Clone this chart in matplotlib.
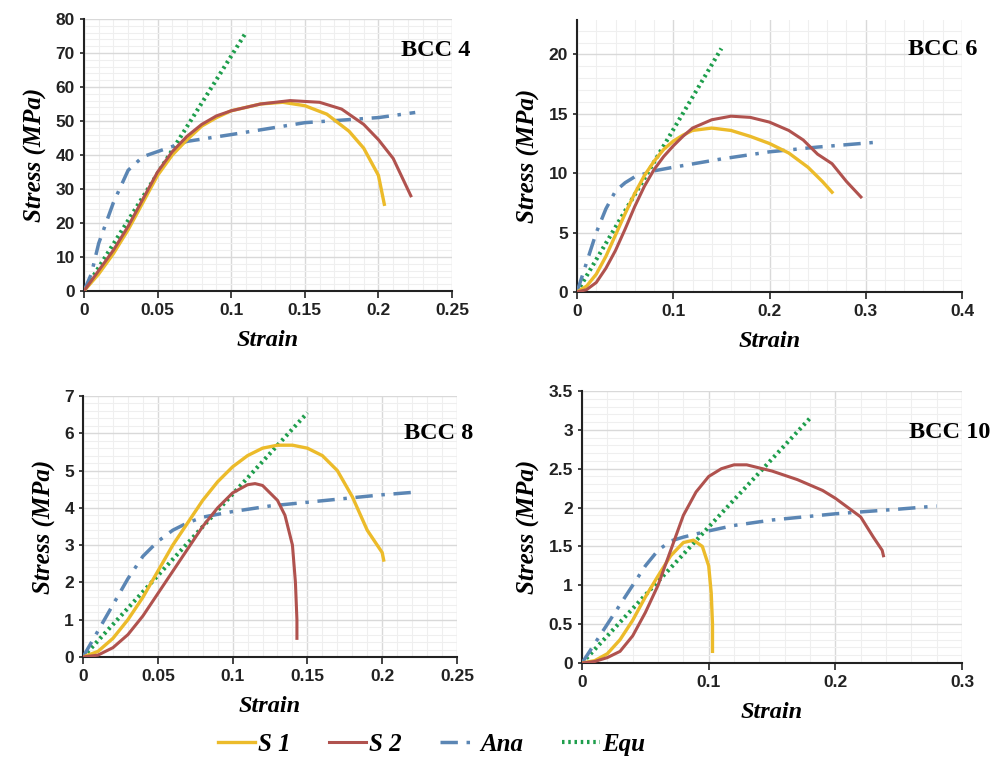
import numpy as np
import matplotlib.pyplot as plt
from matplotlib.lines import Line2D
from matplotlib.ticker import MultipleLocator

# BCC 4
bcc4_s1_x = [0, 0.01, 0.02, 0.03, 0.04, 0.05, 0.06, 0.07, 0.08, 0.09, 0.10, 0.12, 0.135, 0.15, 0.165, 0.18, 0.19, 0.20, 0.204]
bcc4_s1_y = [0, 5, 11, 18, 26, 34, 40, 44.5, 48.5, 51, 53, 55, 55.5, 54.5, 52, 47, 42, 34, 25.5]
bcc4_s2_x = [0, 0.01, 0.02, 0.03, 0.04, 0.05, 0.06, 0.07, 0.08, 0.09, 0.10, 0.12, 0.14, 0.16, 0.175, 0.19, 0.20, 0.21, 0.222]
bcc4_s2_y = [0, 6, 12, 19, 27, 35, 41, 45.5, 49, 51.5, 53, 55, 56, 55.5, 53.5, 49, 44.5, 39, 28]
bcc4_ana_x = [0, 0.005, 0.01, 0.02, 0.03, 0.04, 0.05, 0.07, 0.10, 0.15, 0.20, 0.225]
bcc4_ana_y = [0, 5, 14, 26, 35.5, 39.5, 41, 44, 46, 49.5, 51, 52.5]
bcc4_equ_x = [0, 0.11]
bcc4_equ_y = [0, 76]

# BCC 6
bcc6_s1_x = [0, 0.01, 0.02, 0.03, 0.04, 0.05, 0.06, 0.07, 0.08, 0.09, 0.10, 0.11, 0.12, 0.14, 0.16, 0.18, 0.20, 0.22, 0.24, 0.255, 0.265]
bcc6_s1_y = [0, 0.5, 1.5, 3, 4.8, 6.6, 8.3, 9.8, 11, 12, 12.7, 13.2, 13.6, 13.8, 13.6, 13.1, 12.5, 11.7, 10.5, 9.3, 8.4]
bcc6_s2_x = [0, 0.01, 0.02, 0.03, 0.04, 0.05, 0.06, 0.07, 0.08, 0.09, 0.10, 0.11, 0.12, 0.14, 0.16, 0.18, 0.20, 0.22, 0.235, 0.25, 0.265, 0.28, 0.295]
bcc6_s2_y = [0, 0.2, 0.8, 2, 3.5, 5.3, 7.2, 8.9, 10.3, 11.4, 12.3, 13.1, 13.8, 14.5, 14.8, 14.7, 14.3, 13.6, 12.8, 11.6, 10.8, 9.3, 8]
bcc6_ana_x = [0, 0.01, 0.02, 0.03, 0.04, 0.05, 0.06, 0.08, 0.10, 0.15, 0.20, 0.25, 0.31]
bcc6_ana_y = [0, 2.5, 5, 7, 8.5, 9.2, 9.7, 10.2, 10.5, 11.2, 11.8, 12.2, 12.6]
bcc6_equ_x = [0, 0.15]
bcc6_equ_y = [0, 20.5]

# BCC 8
bcc8_s1_x = [0, 0.01, 0.02, 0.03, 0.04, 0.05, 0.06, 0.07, 0.08, 0.09, 0.10, 0.11, 0.12, 0.13, 0.14, 0.15, 0.16, 0.17, 0.18, 0.19, 0.20, 0.201]
bcc8_s1_y = [0, 0.15, 0.5, 1.0, 1.6, 2.3, 3.0, 3.6, 4.2, 4.7, 5.1, 5.4, 5.6, 5.68, 5.68, 5.6, 5.4, 5.0, 4.3, 3.4, 2.8, 2.6]
bcc8_s2_x = [0, 0.01, 0.02, 0.03, 0.04, 0.05, 0.06, 0.07, 0.08, 0.09, 0.10, 0.11, 0.115, 0.12, 0.13, 0.135, 0.14, 0.142, 0.143, 0.143]
bcc8_s2_y = [0, 0.05, 0.25, 0.6, 1.1, 1.7, 2.3, 2.9, 3.5, 4.0, 4.4, 4.62, 4.65, 4.6, 4.2, 3.8, 3.0, 2.0, 1.0, 0.5]
bcc8_ana_x = [0, 0.01, 0.02, 0.03, 0.04, 0.05, 0.06, 0.07, 0.08, 0.10, 0.125, 0.15, 0.175, 0.20, 0.222]
bcc8_ana_y = [0, 0.7, 1.4, 2.1, 2.7, 3.1, 3.4, 3.6, 3.75, 3.9, 4.05, 4.15, 4.25, 4.35, 4.42]
bcc8_equ_x = [0, 0.15]
bcc8_equ_y = [0, 6.55]

# BCC 10
bcc10_s1_x = [0, 0.01, 0.02, 0.03, 0.04, 0.05, 0.06, 0.07, 0.08, 0.088, 0.095, 0.10, 0.102, 0.103, 0.103]
bcc10_s1_y = [0, 0.03, 0.12, 0.3, 0.55, 0.85, 1.12, 1.38, 1.55, 1.58, 1.5, 1.25, 0.9, 0.5, 0.15]
bcc10_s2_x = [0, 0.01, 0.02, 0.03, 0.04, 0.05, 0.06, 0.07, 0.08, 0.09, 0.10, 0.11, 0.12, 0.13, 0.15, 0.17, 0.19, 0.20, 0.21, 0.22, 0.23, 0.237, 0.238]
bcc10_s2_y = [0, 0.02, 0.07, 0.15, 0.35, 0.65, 1.0, 1.45, 1.9, 2.2, 2.4, 2.5, 2.55, 2.55, 2.47, 2.36, 2.22, 2.12, 2.0, 1.88, 1.62, 1.45, 1.38]
bcc10_ana_x = [0, 0.01, 0.02, 0.03, 0.04, 0.05, 0.06, 0.07, 0.08, 0.10, 0.12, 0.15, 0.20, 0.25, 0.28]
bcc10_ana_y = [0, 0.25, 0.5, 0.75, 1.0, 1.25, 1.45, 1.57, 1.62, 1.7, 1.77, 1.84, 1.92, 1.98, 2.02]
bcc10_equ_x = [0, 0.18]
bcc10_equ_y = [0, 3.15]

titles = ["BCC 4", "BCC 6", "BCC 8", "BCC 10"]
legend_labels = ["S 1", "S 2", "Ana", "Equ"]

c_s1 = "#ECBB2A"
c_s2 = "#B0524E"
c_ana = "#5B86B4"
c_equ = "#1E9E4C"

panels = [
    dict(rect=[0.0837, 0.6196, 0.367, 0.3556], xlim=(0, 0.25), ylim=(0, 80), xmaj=0.05, xmin=0.01, ymaj=10, ymin=2,
         s1=(bcc4_s1_x, bcc4_s1_y), s2=(bcc4_s2_x, bcc4_s2_y), ana=(bcc4_ana_x, bcc4_ana_y), equ=(bcc4_equ_x, bcc4_equ_y),
         tx=1.05, ty=0.885),
    dict(rect=[0.5753, 0.6183, 0.3838, 0.3556], xlim=(0, 0.4), ylim=(0, 22.9), xmaj=0.1, xmin=0.02, ymaj=5, ymin=1,
         s1=(bcc6_s1_x, bcc6_s1_y), s2=(bcc6_s2_x, bcc6_s2_y), ana=(bcc6_ana_x, bcc6_ana_y), equ=(bcc6_equ_x, bcc6_equ_y),
         tx=1.04, ty=0.89),
    dict(rect=[0.0828, 0.1412, 0.3728, 0.3412], xlim=(0, 0.25), ylim=(0, 7), xmaj=0.05, xmin=0.01, ymaj=1, ymin=0.2,
         s1=(bcc8_s1_x, bcc8_s1_y), s2=(bcc8_s2_x, bcc8_s2_y), ana=(bcc8_ana_x, bcc8_ana_y), equ=(bcc8_equ_x, bcc8_equ_y),
         tx=1.043, ty=0.858),
    dict(rect=[0.5803, 0.1333, 0.3788, 0.3556], xlim=(0, 0.3), ylim=(0, 3.5), xmaj=0.1, xmin=0.02, ymaj=0.5, ymin=0.1,
         s1=(bcc10_s1_x, bcc10_s1_y), s2=(bcc10_s2_x, bcc10_s2_y), ana=(bcc10_ana_x, bcc10_ana_y), equ=(bcc10_equ_x, bcc10_equ_y),
         tx=1.074, ty=0.849),
]

def fmt(v, pos):
    return f"{v:g}"

fig = plt.figure(figsize=(10.03, 7.65), dpi=100)

for p, title in zip(panels, titles):
    ax = fig.add_axes(p["rect"])
    ax.plot(*p["equ"], color=c_equ, lw=3, linestyle=(0, (0.6, 0.9)), zorder=3)
    ax.plot(*p["ana"], color=c_ana, lw=2.5, dashes=(5, 2.5, 1, 2.5), zorder=3)
    ax.plot(*p["s1"], color=c_s1, lw=2.4, zorder=4)
    ax.plot(*p["s2"], color=c_s2, lw=2.2, zorder=4)

    ax.set_xlim(p["xlim"])
    ax.set_ylim(p["ylim"])
    ax.xaxis.set_major_locator(MultipleLocator(p["xmaj"]))
    ax.xaxis.set_minor_locator(MultipleLocator(p["xmin"]))
    ax.yaxis.set_major_locator(MultipleLocator(p["ymaj"]))
    ax.yaxis.set_minor_locator(MultipleLocator(p["ymin"]))
    ax.xaxis.set_major_formatter(plt.FuncFormatter(fmt))
    ax.yaxis.set_major_formatter(plt.FuncFormatter(fmt))
    ax.grid(which="major", color="#D9D9D9", lw=1.0)
    ax.grid(which="minor", color="#EFEFEF", lw=0.8)
    ax.set_axisbelow(True)
    for side in ["top", "right"]:
        ax.spines[side].set_visible(False)
    for side in ["left", "bottom"]:
        ax.spines[side].set_color("#222222")
        ax.spines[side].set_linewidth(1.5)
    ax.tick_params(which="major", length=5, width=1.2, color="#222222", labelsize=12.5)
    ax.tick_params(axis="y", which="major", length=3)
    ax.tick_params(which="minor", length=0)
    for lab in ax.get_xticklabels() + ax.get_yticklabels():
        lab.set_fontweight("bold")
        lab.set_family("Liberation Sans")
        lab.set_color("#222222")

    ax.set_xlabel("Strain", fontsize=17.5, fontweight="bold", fontstyle="italic",
                  family="Liberation Serif", labelpad=9)
    ax.set_ylabel("Stress (MPa)", fontsize=18, fontweight="bold", fontstyle="italic",
                  family="Liberation Serif", labelpad=6)
    ax.text(p["tx"], p["ty"], title, transform=ax.transAxes, ha="right", va="center",
            fontsize=17.5, fontweight="bold", family="Liberation Serif")

handles = [
    Line2D([], [], color=c_s1, lw=2.4),
    Line2D([], [], color=c_s2, lw=2.2),
    Line2D([], [], color=c_ana, lw=2.5, dashes=(5, 2.5, 1, 2.5)),
    Line2D([], [], color=c_equ, lw=3, linestyle=(0, (0.6, 0.9))),
]
fig.legend(handles, legend_labels, loc="center", bbox_to_anchor=(0.43, 0.027), ncol=4,
           frameon=False, handlelength=1.5, handletextpad=0.1, columnspacing=1.55,
           prop=dict(family="Liberation Serif", weight="bold", style="italic", size=18))

fig.savefig("out.png", dpi=100, facecolor="white")
